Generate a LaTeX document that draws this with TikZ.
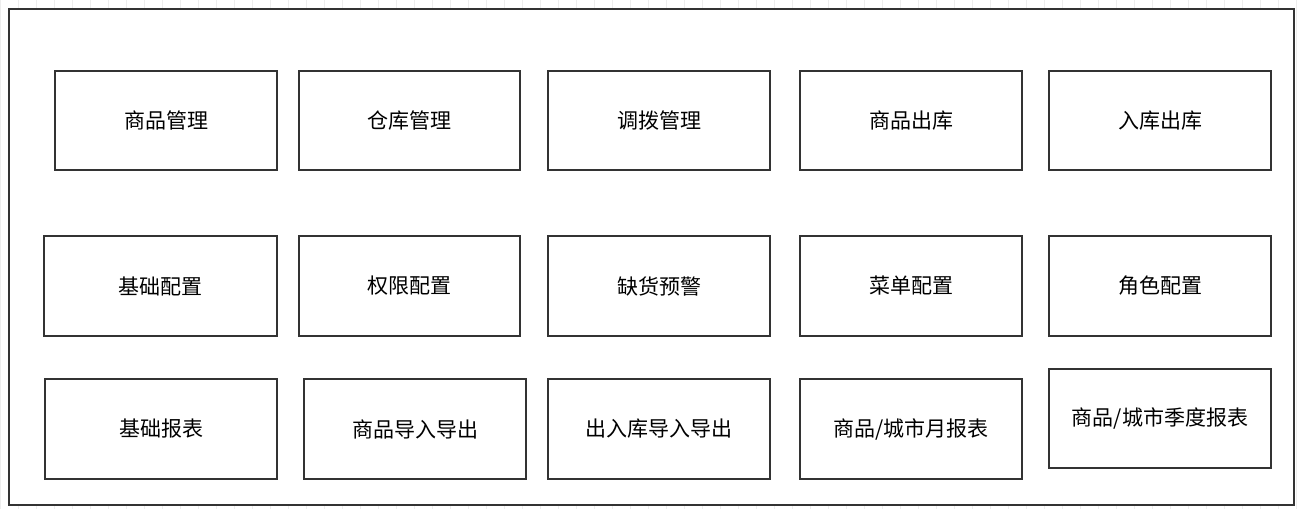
\documentclass[tikz,border=0pt]{standalone}
\usepackage{fontspec}
\newfontfamily\cjk{Noto Sans CJK SC}
\begin{document}
\begin{tikzpicture}[x=1pt,y=-1pt,
  box/.style={draw=black!80,line width=2pt,fill=white,inner sep=0pt,font=\cjk\fontsize{21}{25}\selectfont}]
\useasboundingbox (0,0) rectangle (1300,509);
\draw[black!7,line width=0.8pt] (0,0) grid[step=18] (1300,509);
\draw[black!80,line width=2.2pt,fill=white] (9,9) rectangle (1294,505);
\newcommand\bx[6]{\node[box,minimum width=#4-#2,minimum height=#5-#3] (#1) at ({(#2+#4)/2},{(#3+#5)/2}) {#6};}
\bx{a1}{55}{71}{277}{170}{商品管理}
\bx{a2}{299}{71}{520}{170}{仓库管理}
\bx{a3}{548}{71}{770}{170}{调拨管理}
\bx{a4}{800}{71}{1022}{170}{商品出库}
\bx{a5}{1049}{71}{1271}{170}{入库出库}
\bx{b1}{44}{236}{277}{336}{基础配置}
\bx{b2}{299}{236}{520}{336}{权限配置}
\bx{b3}{548}{236}{770}{336}{缺货预警}
\bx{b4}{800}{236}{1022}{336}{菜单配置}
\bx{b5}{1049}{236}{1271}{336}{角色配置}
\bx{c1}{45}{379}{277}{479}{基础报表}
\bx{c2}{304}{379}{526}{479}{商品导入导出}
\bx{c3}{548}{379}{770}{479}{出入库导入导出}
\bx{c4}{800}{379}{1022}{479}{商品/城市月报表}
\bx{c5}{1049}{369}{1271}{468}{商品/城市季度报表}
\end{tikzpicture}
\end{document}
